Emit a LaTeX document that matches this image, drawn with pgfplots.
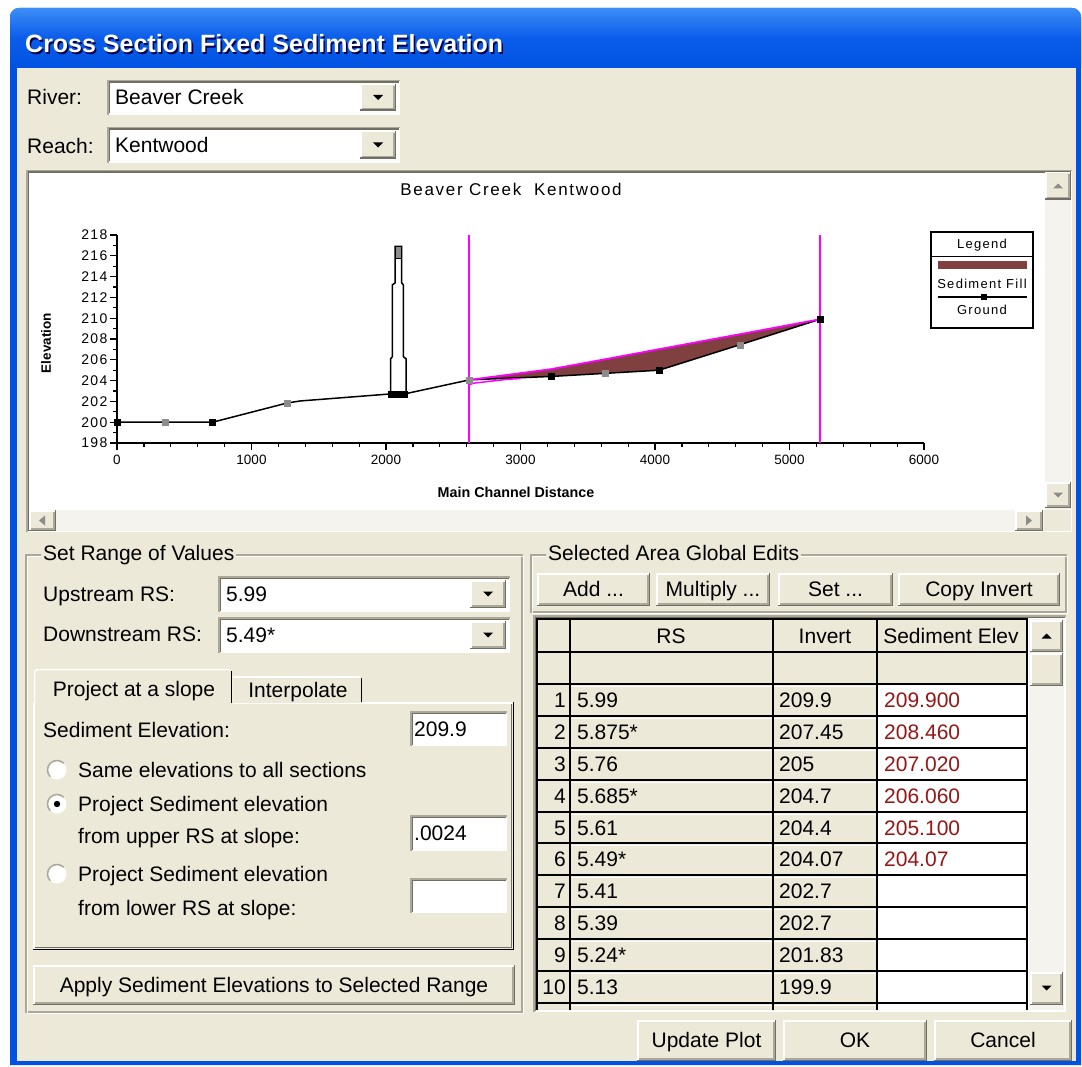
\documentclass[border=0pt]{standalone}
\usepackage{fontspec}
\setmainfont{Liberation Sans}
\newfontfamily\plotfont[LetterSpace=10]{Liberation Sans}
\usepackage{pgfplots}
\pgfplotsset{compat=1.18}
\definecolor{dlg}{HTML}{ECE9D8}
\definecolor{xpblue}{HTML}{0053E2}
\definecolor{xpbluel}{HTML}{3D8DF6}
\definecolor{xpbluem}{HTML}{0A5CEA}
\definecolor{shd}{HTML}{ACA899}
\definecolor{drk}{HTML}{716F64}
\definecolor{track}{HTML}{F4F3EE}
\definecolor{sedfill}{RGB}{128,64,64}
\definecolor{sedtxt}{RGB}{150,22,22}
\definecolor{magc}{RGB}{255,0,255}
\definecolor{gmark}{RGB}{140,140,140}
\newcommand\df{\fontsize{21}{25}\selectfont}
\newcommand\lbl[3]{\node[anchor=base west,inner sep=0pt,font=\df] at ({#1},{#2+7.5}) {#3};}
\newcommand\clbl[3]{\node[anchor=base,inner sep=0pt,font=\df] at ({#1},{#2+7.5}) {#3};}
\newcommand\btn[4]{%
  \fill[dlg] ({#1},{#2}) rectangle ({#3},{#4});
  \draw[white,line width=1.5pt] ({#1+0.75},{#4-1}) -- ({#1+0.75},{#2+0.75}) -- ({#3-1},{#2+0.75});
  \draw[drk,line width=1.5pt] ({#1},{#4-0.75}) -- ({#3-0.75},{#4-0.75}) -- ({#3-0.75},{#2});
  \draw[shd,line width=1.5pt] ({#1+2},{#4-2.25}) -- ({#3-2.25},{#4-2.25}) -- ({#3-2.25},{#2+2});
}
\newcommand\sunk[4]{%
  \fill[white] ({#1},{#2}) rectangle ({#3},{#4});
  \draw[shd,line width=1.5pt] ({#1+0.75},{#4}) -- ({#1+0.75},{#2+0.75}) -- ({#3},{#2+0.75});
  \draw[drk,line width=1.5pt] ({#1+2.25},{#4-1.5}) -- ({#1+2.25},{#2+2.25}) -- ({#3-1.5},{#2+2.25});
}
\newcommand\dtri[3][black]{\fill[#1] ({#2-5},{#3-2.5}) -- ({#2+5},{#3-2.5}) -- ({#2},{#3+2.5}) -- cycle;}
\newcommand\utri[3][black]{\fill[#1] ({#2-5},{#3+2.5}) -- ({#2+5},{#3+2.5}) -- ({#2},{#3-2.5}) -- cycle;}
\newcommand\combo[5]{%
  \sunk{#1}{#2}{#3}{#4}
  \btn{#3-40}{#2+4}{#3-4}{#4-4}
  \dtri{#3-22}{(#2+#4)/2}
  \lbl{#1+8}{(#2+#4)/2}{#5}
}
\newcommand\radio[3]{%
  \fill[white] ({#1},{#2}) circle (9.5);
  \draw[shd,line width=1.5pt] ({#1},{#2}) ++(135:9.5) arc (135:315:9.5);
  \ifnum#3=1 \fill[black] ({#1},{#2}) circle (3.2);\fi
}
\newcommand\row[5]{%
  \node[anchor=base east,inner sep=0pt,font=\df] at (566,{#1+7.5}) {#2};
  \lbl{577}{#1}{#3}
  \lbl{779}{#1}{#4}
  \node[anchor=base west,inner sep=0pt,font=\df,text=sedtxt] at (884,{#1+7.5}) {#5};
}
\begin{document}
\begin{tikzpicture}
\begin{scope}[x=1pt,y=-1pt]
\fill[white] (0,0) rectangle (1082,1067);
% window frame
\fill[xpblue] (10,1065) {[rounded corners=9pt] -- (10,8) -- (1081,8)} -- (1081,1065) -- cycle;
\shade[top color=xpbluel, bottom color=xpblue, middle color=xpbluem] (10,68) {[rounded corners=9pt] -- (10,8) -- (1081,8)} -- (1081,68) -- cycle;
\fill[dlg] (17,68) rectangle (1076,1061);
\node[anchor=base west,inner sep=0pt,text=black!70!blue,font=\fontsize{25}{30}\selectfont\bfseries] at (26.5,54.5) {Cross Section Fixed Sediment Elevation};
\node[anchor=base west,inner sep=0pt,text=white,font=\fontsize{25}{30}\selectfont\bfseries] at (25,53) {Cross Section Fixed Sediment Elevation};
% river / reach
\lbl{27}{97}{River:}
\combo{107}{80}{400}{115}{Beaver Creek}
\lbl{27}{146}{Reach:}
\combo{107}{127}{400}{163}{Kentwood}
% plot panel
\sunk{26}{170}{1072}{532}
\fill[track] (1045,172) rectangle (1071,510);
\btn{1045}{172}{1071}{200}
\utri[gmark]{1058}{186}
\btn{1045}{482}{1071}{508}
\dtri[gmark]{1058}{495}
\fill[track] (29,510) rectangle (1044,531);
\btn{29}{510}{56}{531}
\fill[gmark] (39,520.5) -- (45,515.5) -- (45,525.5) -- cycle;
\btn{1015}{510}{1043}{531}
\fill[gmark] (1032,520.5) -- (1026,515.5) -- (1026,525.5) -- cycle;
\fill[dlg] (1044,510) rectangle (1071,531);
% left group
\draw[shd,line width=1.2pt] (26,555) rectangle (522,1012);
\draw[white,line width=1.2pt] (27.5,556.5) rectangle (523.5,1013.5);
\node[anchor=west,fill=dlg,inner xsep=2pt,inner ysep=1pt,font=\df] at (41,555) {Set Range of Values};
\lbl{43}{594}{Upstream RS:}
\combo{218}{576}{510}{612}{5.99}
\lbl{43}{634}{Downstream RS:}
\combo{218}{617}{510}{653}{5.49*}
% tab panel
\fill[dlg] (33,702) rectangle (514,950);
\draw[white,line width=1.5pt] (33.75,950) -- (33.75,702.75) -- (514,702.75);
\draw[black,line width=1.5pt] (33,949.25) -- (513.25,949.25) -- (513.25,702);
\draw[drk,line width=1.5pt] (35,947.5) -- (511.5,947.5) -- (511.5,704);
% interpolate tab
\fill[dlg] (232,703) -- (232,676) -- (360,676) -- (362,678) -- (362,703) -- cycle;
\draw[white,line width=1.5pt] (232,702) -- (232,676.75) -- (360,676.75);
\draw[black,line width=1.5pt] (361.25,678) -- (361.25,702);
\clbl{298}{690}{Interpolate}
% project tab (selected)
\fill[dlg] (34.5,704) -- (34.5,672) -- (37,669.5) -- (230,669.5) -- (232.5,672) -- (232.5,704) -- cycle;
\draw[white,line width=1.5pt] (34.5,704) -- (34.5,672) -- (37,669.5) -- (230,669.5);
\draw[black,line width=1.5pt] (231.5,671) -- (231.5,703);
\clbl{134}{689}{Project at a slope}
\lbl{43}{730}{Sediment Elevation:}
\sunk{410}{711}{507}{746}
\lbl{414}{729}{209.9}
\radio{57}{770}{0}
\lbl{78}{770}{Same elevations to all sections}
\radio{57}{804}{1}
\lbl{78}{804}{Project Sediment elevation}
\lbl{78}{836}{from upper RS at slope:}
\sunk{410}{815}{507}{851}
\lbl{414}{833}{.0024}
\radio{57}{874}{0}
\lbl{78}{874}{Project Sediment elevation}
\lbl{78}{908}{from lower RS at slope:}
\sunk{410}{878}{507}{913}
\btn{33}{965}{515}{1005}
\clbl{274}{985}{Apply Sediment Elevations to Selected Range}
% right group
\draw[shd,line width=1.2pt] (531,555) rectangle (1066,612);
\draw[white,line width=1.2pt] (532.5,556.5) rectangle (1067.5,613.5);
\node[anchor=west,fill=dlg,inner xsep=2pt,inner ysep=1pt,font=\df] at (546,553) {Selected Area Global Edits};
\btn{537}{573}{650}{606}\clbl{593.5}{589}{Add ...}
\btn{656}{573}{770}{606}\clbl{713}{589}{Multiply ...}
\btn{778}{573}{893}{606}\clbl{835.5}{589}{Set ...}
\btn{898}{573}{1060}{606}\clbl{979}{589}{Copy Invert}
% table
\sunk{533}{615}{1066}{1012}
\fill[dlg] (536,618) rectangle (1028,1010);
\fill[white] (877,684) rectangle (1027,1010);
\foreach \yy in {684,716,748,780,812,843,875,907,939,971,1003} {
  \draw[white,line width=1pt] (571,\yy+2) -- (1026,\yy+2);
}
\foreach \yy in {652,684,716,748,780,812,843,875,907,939,971,1003} {
  \draw[black,line width=2pt] (537,\yy) -- (1027,\yy);
}
\draw[black,line width=2pt] (537,619) -- (1027,619);
\foreach \xx in {537,570,773,877,1027} {\draw[black,line width=2pt] (\xx,618) -- (\xx,1010);}
\clbl{671}{636}{RS}
\clbl{825}{636}{Invert}
\clbl{951}{636}{Sediment Elev}
\row{700}{1}{5.99}{209.9}{209.900}
\row{732}{2}{5.875*}{207.45}{208.460}
\row{764}{3}{5.76}{205}{207.020}
\row{796}{4}{5.685*}{204.7}{206.060}
\row{828}{5}{5.61}{204.4}{205.100}
\row{859}{6}{5.49*}{204.07}{204.07}
\row{891}{7}{5.41}{202.7}{}
\row{923}{8}{5.39}{202.7}{}
\row{955}{9}{5.24*}{201.83}{}
\row{987}{10}{5.13}{199.9}{}
\fill[track] (1029,619) rectangle (1064,1010);
\btn{1030}{620}{1063}{652}\utri{1046.5}{636}
\btn{1030}{653}{1063}{686}
\btn{1030}{972}{1063}{1005}\dtri{1046.5}{988}
% bottom buttons
\btn{637}{1020}{776}{1061}\clbl{706.5}{1040}{Update Plot}
\btn{783}{1020}{927}{1061}\clbl{855}{1040}{OK}
\btn{934}{1020}{1072}{1061}\clbl{1003}{1040}{Cancel}
\end{scope}
\begin{axis}[at={(117pt,-443pt)}, anchor=south west, scale only axis,
  width=807pt, height=208pt,
  xmin=0, xmax=6000, ymin=198, ymax=218,
  axis lines=left, axis line style={-, black, line width=1.5pt},
  xtick={0,1000,...,6000}, ytick={198,200,...,218},
  minor x tick num=4, minor y tick num=1,
  tick align=outside, major tick length=7pt, minor tick length=4pt,
  tick style={black, line width=1.2pt},
  xticklabel style={font=\fontsize{13.5}{15}\selectfont, yshift=-2pt},
  yticklabel style={font=\plotfont\fontsize{14}{15}\selectfont, xshift=1pt},
  /pgf/number format/assume math mode=true,
  /pgf/number format/1000 sep={},
  clip=false]
\addplot[fill=sedfill, draw=none] coordinates {(2620,204.07)(3227,205.1)(3633,206.06)(4030,207.02)(4632,208.46)(5227,209.9)(4632,207.45)(4030,205)(3633,204.7)(3227,204.4)(2620,204.07)} -- cycle;
\addplot[black, line width=1.5pt] coordinates {(0,200)(357,200)(711,200)(1266,201.85)(1361,202.04)(2035,202.72)(2149,202.75)(2620,204.07)(3227,204.4)(3633,204.7)(4030,205)(4632,207.45)(5227,209.9)};
\addplot[black, line width=1.5pt, fill=white] coordinates {(2035,202.7)(2035,206.1)(2047,206.3)(2047,213.2)(2068,213.4)(2068,216.9)(2117,216.9)(2117,213.4)(2129,213.2)(2129,206.3)(2149,206.1)(2149,202.7)};
\addplot[fill=gmark, draw=black, line width=1pt] coordinates {(2068,215.7)(2117,215.7)(2117,216.9)(2068,216.9)} -- cycle;
\addplot[fill=black, draw=black] coordinates {(2020,202.4)(2160,202.4)(2160,202.95)(2020,202.95)} -- cycle;
\addplot[color=magc, line width=1.8pt] coordinates {(2620,204.07)(3227,205.1)(3633,206.06)(4030,207.02)(4632,208.46)(5227,209.9)};
\addplot[color=magc, line width=1.5pt] coordinates {(2620,203.6)(2650,203.75)(2900,204.12)(3000,204.2)};
\addplot[only marks, mark=square*, mark size=3pt, black] coordinates {(0,200)(711,200)(3227,204.4)(4030,205)(5227,209.9)};
\addplot[only marks, mark=square*, mark size=3pt, gmark] coordinates {(357,200)(1266,201.85)(2620,204.07)(3633,204.7)(4632,207.45)};
\addplot[color=magc, line width=2pt] coordinates {(5227,198)(5227,218)};
\addplot[color=magc, line width=2pt] coordinates {(2620,198)(2620,218)};
\end{axis}
\begin{scope}[x=1pt,y=-1pt]
\node[font=\plotfont\fontsize{17}{20}\selectfont] at (511,189) {Beaver Creek\ \ Kentwood};
\node[font=\fontsize{13.5}{15}\selectfont\bfseries, rotate=90] at (46,343) {Elevation};
\node[font=\fontsize{14.3}{16}\selectfont\bfseries] at (516,492) {Main Channel Distance};
% legend
\draw[black, line width=1.5pt, fill=white] (931,232) rectangle (1033,328);
\draw[black, line width=1.5pt] (931,256.5) -- (1033,256.5);
\node[font=\plotfont\fontsize{13}{15}\selectfont] at (982,245) {Legend};
\fill[sedfill] (938,261) rectangle (1027,269);
\node[font=\plotfont\fontsize{13}{15}\selectfont] at (982,284) {Sediment Fill};
\draw[black, line width=1.2pt] (938,297) -- (1027,297);
\fill[black] (981,294) rectangle (987,300);
\node[font=\plotfont\fontsize{13}{15}\selectfont] at (982,310) {Ground};
\end{scope}
\end{tikzpicture}
\end{document}
